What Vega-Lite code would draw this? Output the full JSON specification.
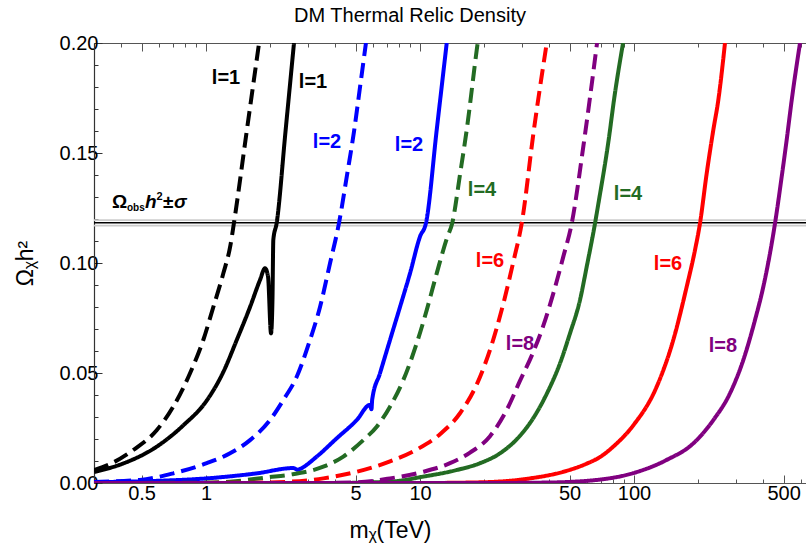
{
  "$schema": "https://vega.github.io/schema/vega-lite/v6.json",
  "width": 712,
  "height": 440,
  "autosize": {"type": "none"},
  "padding": {"left": 94, "top": 43, "right": 0, "bottom": 69},
  "background": "white",
  "title": {"text": "DM Thermal Relic Density", "fontSize": 20, "font": "Liberation Sans", "fontWeight": "normal", "color": "black", "anchor": "middle", "dx": -40, "offset": 7},
  "config": {"view": {"stroke": null}, "font": "Liberation Sans"},
  "datasets": {
    "curves": [
      {"l": "1", "kind": "dashed", "m": 0.3, "omega": 0.0059},
      {"l": "1", "kind": "dashed", "m": 0.356, "omega": 0.0086},
      {"l": "1", "kind": "dashed", "m": 0.457, "omega": 0.015},
      {"l": "1", "kind": "dashed", "m": 0.588, "omega": 0.024},
      {"l": "1", "kind": "dashed", "m": 0.703, "omega": 0.0347},
      {"l": "1", "kind": "dashed", "m": 0.842, "omega": 0.0499},
      {"l": "1", "kind": "dashed", "m": 0.971, "omega": 0.065},
      {"l": "1", "kind": "dashed", "m": 1.082, "omega": 0.08},
      {"l": "1", "kind": "dashed", "m": 1.205, "omega": 0.0953},
      {"l": "1", "kind": "dashed", "m": 1.3, "omega": 0.108},
      {"l": "1", "kind": "dashed", "m": 1.351, "omega": 0.1183},
      {"l": "1", "kind": "dashed", "m": 1.55, "omega": 0.16},
      {"l": "1", "kind": "dashed", "m": 1.77, "omega": 0.2},

      {"l": "1", "kind": "solid", "m": 0.3, "omega": 0.005},
      {"l": "1", "kind": "solid", "m": 0.411, "omega": 0.0089},
      {"l": "1", "kind": "solid", "m": 0.588, "omega": 0.0165},
      {"l": "1", "kind": "solid", "m": 0.783, "omega": 0.0262},
      {"l": "1", "kind": "solid", "m": 1.008, "omega": 0.0375},
      {"l": "1", "kind": "solid", "m": 1.205, "omega": 0.0505},
      {"l": "1", "kind": "solid", "m": 1.392, "omega": 0.065},
      {"l": "1", "kind": "solid", "m": 1.606, "omega": 0.08},
      {"l": "1", "kind": "solid", "m": 1.788, "omega": 0.0923},
      {"l": "1", "kind": "solid", "m": 1.887, "omega": 0.0976},
      {"l": "1", "kind": "solid", "m": 1.948, "omega": 0.094},
      {"l": "1", "kind": "solid", "m": 2.013, "omega": 0.068},
      {"l": "1", "kind": "solid", "m": 2.044, "omega": 0.083},
      {"l": "1", "kind": "solid", "m": 2.063, "omega": 0.1105},
      {"l": "1", "kind": "solid", "m": 2.14, "omega": 0.1183},
      {"l": "1", "kind": "solid", "m": 2.348, "omega": 0.159},
      {"l": "1", "kind": "solid", "m": 2.577, "omega": 0.2},

      {"l": "2", "kind": "dashed", "m": 0.3, "omega": 0.0005},
      {"l": "2", "kind": "dashed", "m": 0.491, "omega": 0.0014},
      {"l": "2", "kind": "dashed", "m": 0.703, "omega": 0.0044},
      {"l": "2", "kind": "dashed", "m": 1.008, "omega": 0.009},
      {"l": "2", "kind": "dashed", "m": 1.295, "omega": 0.0135},
      {"l": "2", "kind": "dashed", "m": 1.606, "omega": 0.0195},
      {"l": "2", "kind": "dashed", "m": 1.991, "omega": 0.0286},
      {"l": "2", "kind": "dashed", "m": 2.297, "omega": 0.0377},
      {"l": "2", "kind": "dashed", "m": 2.654, "omega": 0.0483},
      {"l": "2", "kind": "dashed", "m": 3.062, "omega": 0.065},
      {"l": "2", "kind": "dashed", "m": 3.41, "omega": 0.08},
      {"l": "2", "kind": "dashed", "m": 3.8, "omega": 0.1},
      {"l": "2", "kind": "dashed", "m": 4.18, "omega": 0.118},
      {"l": "2", "kind": "dashed", "m": 4.56, "omega": 0.14},
      {"l": "2", "kind": "dashed", "m": 4.92, "omega": 0.16},
      {"l": "2", "kind": "dashed", "m": 5.245, "omega": 0.18},
      {"l": "2", "kind": "dashed", "m": 5.59, "omega": 0.2},

      {"l": "2", "kind": "solid", "m": 0.3, "omega": 0.0004},
      {"l": "2", "kind": "solid", "m": 0.6, "omega": 0.001},
      {"l": "2", "kind": "solid", "m": 1.008, "omega": 0.0021},
      {"l": "2", "kind": "solid", "m": 1.727, "omega": 0.0044},
      {"l": "2", "kind": "solid", "m": 2.56, "omega": 0.0068},
      {"l": "2", "kind": "solid", "m": 2.68, "omega": 0.006},
      {"l": "2", "kind": "solid", "m": 2.75, "omega": 0.0064},
      {"l": "2", "kind": "solid", "m": 3.291, "omega": 0.012},
      {"l": "2", "kind": "solid", "m": 4.081, "omega": 0.0203},
      {"l": "2", "kind": "solid", "m": 5.061, "omega": 0.0286},
      {"l": "2", "kind": "solid", "m": 5.84, "omega": 0.0355},
      {"l": "2", "kind": "solid", "m": 5.93, "omega": 0.0335},
      {"l": "2", "kind": "solid", "m": 5.98, "omega": 0.038},
      {"l": "2", "kind": "solid", "m": 6.503, "omega": 0.0499},
      {"l": "2", "kind": "solid", "m": 7.241, "omega": 0.065},
      {"l": "2", "kind": "solid", "m": 8.063, "omega": 0.08},
      {"l": "2", "kind": "solid", "m": 8.98, "omega": 0.0953},
      {"l": "2", "kind": "solid", "m": 10.0, "omega": 0.112},
      {"l": "2", "kind": "solid", "m": 10.67, "omega": 0.1183},
      {"l": "2", "kind": "solid", "m": 11.97, "omega": 0.1605},
      {"l": "2", "kind": "solid", "m": 13.33, "omega": 0.2},

      {"l": "4", "kind": "dashed", "m": 0.3, "omega": 0.0},
      {"l": "4", "kind": "dashed", "m": 1.0, "omega": 0.0002},
      {"l": "4", "kind": "dashed", "m": 1.295, "omega": 0.0006},
      {"l": "4", "kind": "dashed", "m": 1.949, "omega": 0.0026},
      {"l": "4", "kind": "dashed", "m": 2.47, "omega": 0.0038},
      {"l": "4", "kind": "dashed", "m": 3.533, "omega": 0.0074},
      {"l": "4", "kind": "dashed", "m": 4.382, "omega": 0.012},
      {"l": "4", "kind": "dashed", "m": 5.433, "omega": 0.0195},
      {"l": "4", "kind": "dashed", "m": 6.278, "omega": 0.0256},
      {"l": "4", "kind": "dashed", "m": 7.241, "omega": 0.0347},
      {"l": "4", "kind": "dashed", "m": 8.356, "omega": 0.0468},
      {"l": "4", "kind": "dashed", "m": 9.652, "omega": 0.0635},
      {"l": "4", "kind": "dashed", "m": 10.75, "omega": 0.0786},
      {"l": "4", "kind": "dashed", "m": 11.97, "omega": 0.0953},
      {"l": "4", "kind": "dashed", "m": 13.33, "omega": 0.111},
      {"l": "4", "kind": "dashed", "m": 14.16, "omega": 0.1183},
      {"l": "4", "kind": "dashed", "m": 15.41, "omega": 0.1408},
      {"l": "4", "kind": "dashed", "m": 16.53, "omega": 0.1605},
      {"l": "4", "kind": "dashed", "m": 18.41, "omega": 0.1968},
      {"l": "4", "kind": "dashed", "m": 18.6, "omega": 0.2},

      {"l": "4", "kind": "solid", "m": 0.3, "omega": 0.0},
      {"l": "4", "kind": "solid", "m": 4.0, "omega": 0.0},
      {"l": "4", "kind": "solid", "m": 7.241, "omega": 0.0006},
      {"l": "4", "kind": "solid", "m": 10.36, "omega": 0.0029},
      {"l": "4", "kind": "solid", "m": 14.84, "omega": 0.0059},
      {"l": "4", "kind": "solid", "m": 19.07, "omega": 0.009},
      {"l": "4", "kind": "solid", "m": 23.65, "omega": 0.0135},
      {"l": "4", "kind": "solid", "m": 29.34, "omega": 0.0215},
      {"l": "4", "kind": "solid", "m": 33.83, "omega": 0.0295},
      {"l": "4", "kind": "solid", "m": 39.08, "omega": 0.0405},
      {"l": "4", "kind": "solid", "m": 45.11, "omega": 0.0544},
      {"l": "4", "kind": "solid", "m": 50.22, "omega": 0.068},
      {"l": "4", "kind": "solid", "m": 55.94, "omega": 0.0832},
      {"l": "4", "kind": "solid", "m": 60.12, "omega": 0.0983},
      {"l": "4", "kind": "solid", "m": 65.74, "omega": 0.118},
      {"l": "4", "kind": "solid", "m": 67.9, "omega": 0.126},
      {"l": "4", "kind": "solid", "m": 76.4, "omega": 0.157},
      {"l": "4", "kind": "solid", "m": 80.6, "omega": 0.174},
      {"l": "4", "kind": "solid", "m": 88.9, "omega": 0.2},

      {"l": "6", "kind": "dashed", "m": 0.3, "omega": 0.0},
      {"l": "6", "kind": "dashed", "m": 1.5, "omega": 0.0001},
      {"l": "6", "kind": "dashed", "m": 2.47, "omega": 0.0006},
      {"l": "6", "kind": "dashed", "m": 3.533, "omega": 0.0021},
      {"l": "6", "kind": "dashed", "m": 5.061, "omega": 0.0051},
      {"l": "6", "kind": "dashed", "m": 7.241, "omega": 0.0098},
      {"l": "6", "kind": "dashed", "m": 9.652, "omega": 0.0152},
      {"l": "6", "kind": "dashed", "m": 12.4, "omega": 0.0222},
      {"l": "6", "kind": "dashed", "m": 15.38, "omega": 0.0317},
      {"l": "6", "kind": "dashed", "m": 18.41, "omega": 0.0448},
      {"l": "6", "kind": "dashed", "m": 21.24, "omega": 0.0605},
      {"l": "6", "kind": "dashed", "m": 24.51, "omega": 0.0815},
      {"l": "6", "kind": "dashed", "m": 27.29, "omega": 0.1005},
      {"l": "6", "kind": "dashed", "m": 29.87, "omega": 0.118},
      {"l": "6", "kind": "dashed", "m": 34.0, "omega": 0.16},
      {"l": "6", "kind": "dashed", "m": 39.1, "omega": 0.2},

      {"l": "6", "kind": "solid", "m": 0.3, "omega": 0.0},
      {"l": "6", "kind": "solid", "m": 10.0, "omega": 0.0},
      {"l": "6", "kind": "solid", "m": 19.07, "omega": 0.0003},
      {"l": "6", "kind": "solid", "m": 32.66, "omega": 0.0021},
      {"l": "6", "kind": "solid", "m": 46.74, "omega": 0.0051},
      {"l": "6", "kind": "solid", "m": 60.12, "omega": 0.0088},
      {"l": "6", "kind": "solid", "m": 69.36, "omega": 0.0118},
      {"l": "6", "kind": "solid", "m": 82.0, "omega": 0.0175},
      {"l": "6", "kind": "solid", "m": 99.24, "omega": 0.0262},
      {"l": "6", "kind": "solid", "m": 127.7, "omega": 0.0438},
      {"l": "6", "kind": "solid", "m": 152.6, "omega": 0.065},
      {"l": "6", "kind": "solid", "m": 176.3, "omega": 0.0892},
      {"l": "6", "kind": "solid", "m": 192.8, "omega": 0.1059},
      {"l": "6", "kind": "solid", "m": 203.4, "omega": 0.118},
      {"l": "6", "kind": "solid", "m": 218.7, "omega": 0.1408},
      {"l": "6", "kind": "solid", "m": 234.8, "omega": 0.1605},
      {"l": "6", "kind": "solid", "m": 247.7, "omega": 0.174},
      {"l": "6", "kind": "solid", "m": 266.2, "omega": 0.2},

      {"l": "8", "kind": "dashed", "m": 0.3, "omega": 0.0},
      {"l": "8", "kind": "dashed", "m": 3.0, "omega": 0.0},
      {"l": "8", "kind": "dashed", "m": 5.061, "omega": 0.0003},
      {"l": "8", "kind": "dashed", "m": 7.241, "omega": 0.0021},
      {"l": "8", "kind": "dashed", "m": 10.36, "omega": 0.0051},
      {"l": "8", "kind": "dashed", "m": 13.81, "omega": 0.009},
      {"l": "8", "kind": "dashed", "m": 17.13, "omega": 0.0138},
      {"l": "8", "kind": "dashed", "m": 21.24, "omega": 0.0213},
      {"l": "8", "kind": "dashed", "m": 25.42, "omega": 0.0332},
      {"l": "8", "kind": "dashed", "m": 29.34, "omega": 0.0465},
      {"l": "8", "kind": "dashed", "m": 33.83, "omega": 0.0595},
      {"l": "8", "kind": "dashed", "m": 37.69, "omega": 0.0715},
      {"l": "8", "kind": "dashed", "m": 41.98, "omega": 0.0862},
      {"l": "8", "kind": "dashed", "m": 46.74, "omega": 0.1029},
      {"l": "8", "kind": "dashed", "m": 51.17, "omega": 0.118},
      {"l": "8", "kind": "dashed", "m": 57.98, "omega": 0.153},
      {"l": "8", "kind": "dashed", "m": 67.2, "omega": 0.2},

      {"l": "8", "kind": "solid", "m": 0.3, "omega": 0.0},
      {"l": "8", "kind": "solid", "m": 20.0, "omega": 0.0},
      {"l": "8", "kind": "solid", "m": 39.08, "omega": 0.0002},
      {"l": "8", "kind": "solid", "m": 66.96, "omega": 0.0014},
      {"l": "8", "kind": "solid", "m": 99.24, "omega": 0.0045},
      {"l": "8", "kind": "solid", "m": 142.2, "omega": 0.0105},
      {"l": "8", "kind": "solid", "m": 189.3, "omega": 0.018},
      {"l": "8", "kind": "solid", "m": 234.8, "omega": 0.0286},
      {"l": "8", "kind": "solid", "m": 281.0, "omega": 0.0408},
      {"l": "8", "kind": "solid", "m": 324.2, "omega": 0.0559},
      {"l": "8", "kind": "solid", "m": 367.7, "omega": 0.0741},
      {"l": "8", "kind": "solid", "m": 402.1, "omega": 0.0892},
      {"l": "8", "kind": "solid", "m": 432.0, "omega": 0.1044},
      {"l": "8", "kind": "solid", "m": 456.0, "omega": 0.118},
      {"l": "8", "kind": "solid", "m": 490.0, "omega": 0.1392},
      {"l": "8", "kind": "solid", "m": 517.1, "omega": 0.156},
      {"l": "8", "kind": "solid", "m": 545.7, "omega": 0.174},
      {"l": "8", "kind": "solid", "m": 596.8, "omega": 0.2}
    ],
    "labels": [
      {"l": "1", "m": 1.24, "omega": 0.1841, "text": "l=1"},
      {"l": "1", "m": 3.163, "omega": 0.1823, "text": "l=1"},
      {"l": "2", "m": 3.677, "omega": 0.155, "text": "l=2"},
      {"l": "2", "m": 8.885, "omega": 0.1536, "text": "l=2"},
      {"l": "4", "m": 19.49, "omega": 0.1332, "text": "l=4"},
      {"l": "6", "m": 21.24, "omega": 0.1009, "text": "l=6"},
      {"l": "8", "m": 29.34, "omega": 0.0632, "text": "l=8"},
      {"l": "4", "m": 93.76, "omega": 0.1314, "text": "l=4"},
      {"l": "6", "m": 144.2, "omega": 0.0995, "text": "l=6"},
      {"l": "8", "m": 260.5, "omega": 0.0623, "text": "l=8"}
    ],
    "obsBand": [{"omega": 0.1195}, {"omega": 0.117}],
    "obsCenter": [{"omega": 0.1183}],
    "obsLabel": [{"m": 0.3636, "omega": 0.125}]
  },
  "resolve": {"axis": {"x": "independent", "y": "independent"}},
  "layer": [
    {
      "data": {"name": "obsBand"},
      "mark": {"type": "rule", "color": "#cccccc", "strokeWidth": 1.6},
      "encoding": {
        "y": {"field": "omega", "type": "quantitative", "scale": {"domain": [0, 0.2]}, "axis": null}
      }
    },
    {
      "data": {"name": "obsCenter"},
      "mark": {"type": "rule", "color": "black", "strokeWidth": 1.3},
      "encoding": {
        "y": {"field": "omega", "type": "quantitative", "scale": {"domain": [0, 0.2]}, "axis": null}
      }
    },
    {
      "data": {"name": "curves"},
      "mark": {"type": "line", "strokeWidth": 4, "clip": true, "strokeJoin": "round", "strokeCap": "butt", "interpolate": "monotone"},
      "encoding": {
        "x": {
          "field": "m", "type": "quantitative",
          "scale": {"type": "log", "domain": [0.2996, 636.5], "nice": false},
          "axis": {
            "orient": "bottom",
            "values": [0.3,0.4,0.5,0.6,0.7,0.8,0.9,1,2,3,4,5,6,7,8,9,10,20,30,40,50,60,70,80,90,100,200,300,400,500,600],
            "labelExpr": "indexof([0.5,1,5,10,50,100,500], datum.value) >= 0 ? (datum.value < 1 ? '0.5' : format(datum.value, 'd')) : ''",
            "tickSize": {"condition": {"test": "indexof([0.5,1,5,10,50,100,500], datum.value) >= 0", "value": -8}, "value": -4},
            "labelPadding": 8,
            "labelFontSize": 20, "labelColor": "black", "labelFont": "Liberation Sans",
            "labelOverlap": false, "labelFlush": false, "labelBound": false,
            "domainColor": "#555555", "tickColor": "#555555", "domainWidth": 1.2, "tickWidth": 1,
            "grid": false,
            "title": "mᵪ(TeV)", "titleFontSize": 23, "titleFontWeight": "normal", "titleColor": "black",
            "titleFont": "Liberation Sans", "titleX": 296, "titleY": 54, "titleBaseline": "alphabetic", "titleAlign": "center"
          }
        },
        "y": {
          "field": "omega", "type": "quantitative",
          "scale": {"domain": [0, 0.2], "nice": false},
          "axis": {
            "orient": "left",
            "values": [0,0.01,0.02,0.03,0.04,0.05,0.06,0.07,0.08,0.09,0.1,0.11,0.12,0.13,0.14,0.15,0.16,0.17,0.18,0.19,0.2],
            "labelExpr": "abs(datum.value*20 - round(datum.value*20)) < 0.001 ? format(datum.value, '.2f') : ''",
            "tickSize": {"condition": {"test": "abs(datum.value*20 - round(datum.value*20)) < 0.001", "value": -8}, "value": -4},
            "labelPadding": 4,
            "labelFontSize": 20, "labelColor": "black", "labelFont": "Liberation Sans",
            "labelOverlap": false, "labelFlush": false, "labelBound": false,
            "domainColor": "#333333", "tickColor": "#333333", "domainWidth": 1.2,
            "grid": false,
            "title": "Ωᵪh²", "titleFontSize": 23, "titleFontWeight": "normal", "titleColor": "black",
            "titleFont": "Liberation Sans", "titleX": -57, "titleY": 220, "titleBaseline": "bottom", "titleAlign": "center", "titleAngle": 270
          }
        },
        "color": {
          "field": "l", "type": "nominal",
          "scale": {"domain": ["1", "2", "4", "6", "8"], "range": ["#000000", "#0000ff", "#236b23", "#ff0000", "#800080"]},
          "legend": null
        },
        "strokeDash": {
          "field": "kind", "type": "nominal",
          "scale": {"domain": ["dashed", "solid"], "range": [[15, 7], [1, 0]]},
          "legend": null
        }
      }
    },
    {
      "data": {"name": "labels"},
      "mark": {"type": "text", "fontSize": 20, "fontWeight": "bold", "font": "Liberation Sans", "align": "center", "baseline": "middle"},
      "encoding": {
        "x": {
          "field": "m", "type": "quantitative",
          "scale": {"type": "log", "domain": [0.2996, 636.5], "nice": false},
          "axis": {
            "orient": "top",
            "values": [0.3,0.4,0.5,0.6,0.7,0.8,0.9,1,2,3,4,5,6,7,8,9,10,20,30,40,50,60,70,80,90,100,200,300,400,500,600],
            "labels": false,
            "tickSize": {"condition": {"test": "indexof([0.5,1,5,10,50,100,500], datum.value) >= 0", "value": -8}, "value": -4},
            "domainColor": "#555555", "tickColor": "#555555", "domainWidth": 1.2,
            "grid": false, "title": null
          }
        },
        "y": {"field": "omega", "type": "quantitative", "scale": {"domain": [0, 0.2]}, "axis": null},
        "text": {"field": "text"},
        "color": {"field": "l", "type": "nominal", "scale": {"domain": ["1", "2", "4", "6", "8"], "range": ["#000000", "#0000ff", "#236b23", "#ff0000", "#800080"]}, "legend": null}
      }
    },
    {
      "data": {"name": "obsLabel"},
      "mark": {"type": "text", "text": "Ω", "fontSize": 19, "fontWeight": "bold", "font": "Liberation Sans", "align": "left", "baseline": "alphabetic", "color": "black"},
      "encoding": {
        "x": {"field": "m", "type": "quantitative", "scale": {"type": "log", "domain": [0.2996, 636.5]}, "axis": null},
        "y": {"field": "omega", "type": "quantitative", "scale": {"domain": [0, 0.2]}, "axis": null}
      }
    },
    {
      "data": {"name": "obsLabel"},
      "mark": {"type": "text", "text": "obs", "fontSize": 10, "fontWeight": "bold", "font": "Liberation Sans", "align": "left", "baseline": "alphabetic", "color": "black", "dx": 15, "dy": 3},
      "encoding": {
        "x": {"field": "m", "type": "quantitative", "scale": {"type": "log", "domain": [0.2996, 636.5]}, "axis": null},
        "y": {"field": "omega", "type": "quantitative", "scale": {"domain": [0, 0.2]}, "axis": null}
      }
    },
    {
      "data": {"name": "obsLabel"},
      "mark": {"type": "text", "text": "h", "fontSize": 19, "fontWeight": "bold", "fontStyle": "italic", "font": "Liberation Sans", "align": "left", "baseline": "alphabetic", "color": "black", "dx": 33},
      "encoding": {
        "x": {"field": "m", "type": "quantitative", "scale": {"type": "log", "domain": [0.2996, 636.5]}, "axis": null},
        "y": {"field": "omega", "type": "quantitative", "scale": {"domain": [0, 0.2]}, "axis": null}
      }
    },
    {
      "data": {"name": "obsLabel"},
      "mark": {"type": "text", "text": "2", "fontSize": 11, "fontWeight": "bold", "font": "Liberation Sans", "align": "left", "baseline": "alphabetic", "color": "black", "dx": 44.5, "dy": -8},
      "encoding": {
        "x": {"field": "m", "type": "quantitative", "scale": {"type": "log", "domain": [0.2996, 636.5]}, "axis": null},
        "y": {"field": "omega", "type": "quantitative", "scale": {"domain": [0, 0.2]}, "axis": null}
      }
    },
    {
      "data": {"name": "obsLabel"},
      "mark": {"type": "text", "text": "±", "fontSize": 19, "fontWeight": "bold", "font": "Liberation Sans", "align": "left", "baseline": "alphabetic", "color": "black", "dx": 51},
      "encoding": {
        "x": {"field": "m", "type": "quantitative", "scale": {"type": "log", "domain": [0.2996, 636.5]}, "axis": null},
        "y": {"field": "omega", "type": "quantitative", "scale": {"domain": [0, 0.2]}, "axis": null}
      }
    },
    {
      "data": {"name": "obsLabel"},
      "mark": {"type": "text", "text": "σ", "fontSize": 19, "fontWeight": "bold", "fontStyle": "italic", "font": "Liberation Sans", "align": "left", "baseline": "alphabetic", "color": "black", "dx": 62},
      "encoding": {
        "x": {"field": "m", "type": "quantitative", "scale": {"type": "log", "domain": [0.2996, 636.5]}, "axis": null},
        "y": {"field": "omega", "type": "quantitative", "scale": {"domain": [0, 0.2]}, "axis": null}
      }
    }
  ]
}
